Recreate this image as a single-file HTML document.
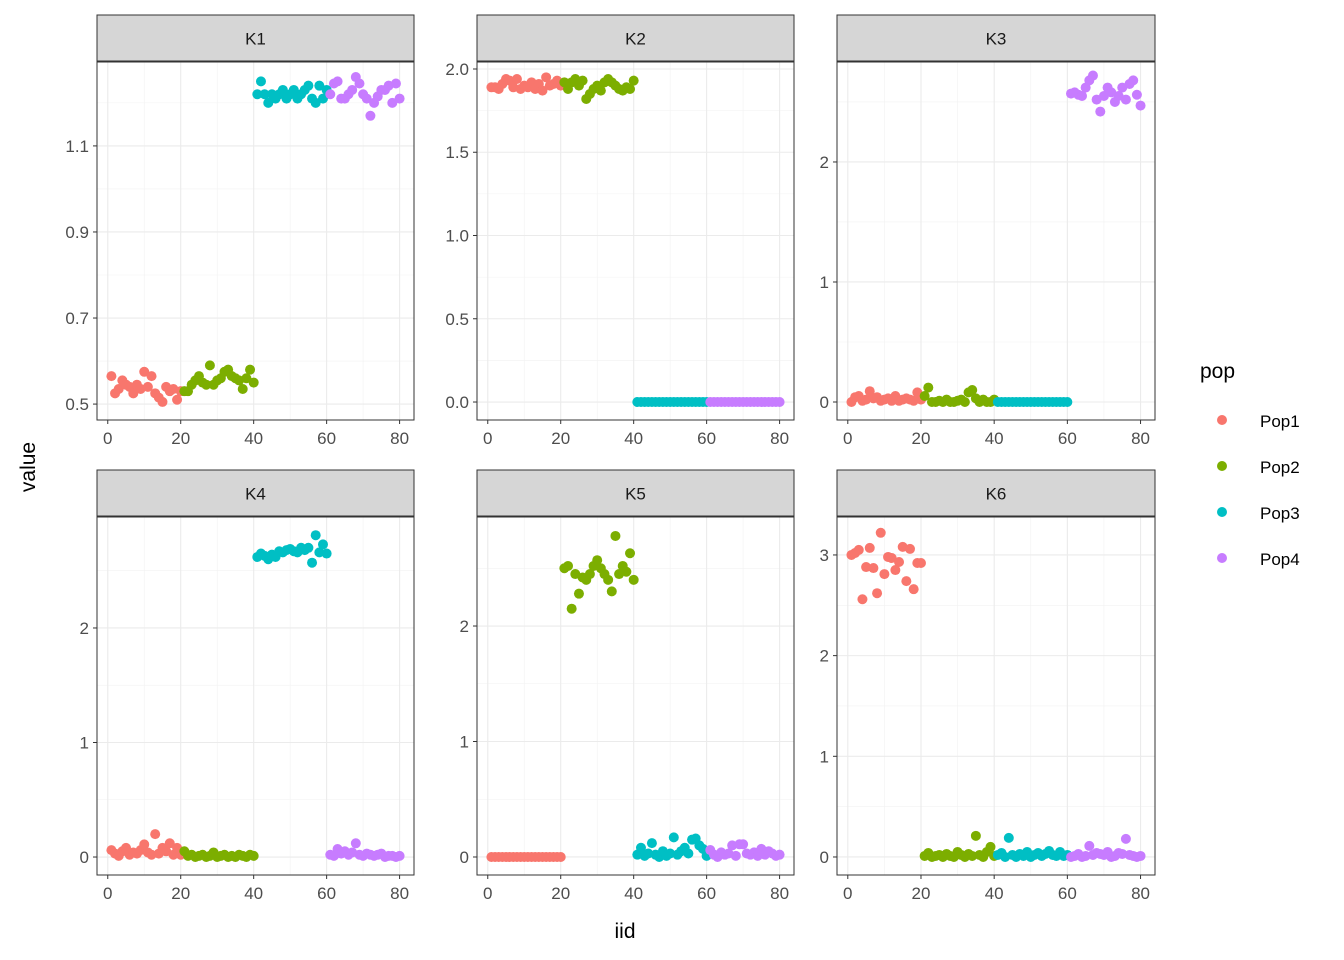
<!DOCTYPE html>
<html><head><meta charset="utf-8"><style>
body{margin:0;background:#fff;}
svg{display:block;font-family:"Liberation Sans",Arial,sans-serif;}
</style></head><body>
<svg id="chart" width="1344" height="960" viewBox="0 0 1344 960"></svg>
<script>
const facetNames = ["K1","K2","K3","K4","K5","K6"];
const popNames = ["Pop1","Pop2","Pop3","Pop4"];
const popColors = ["#F8766D","#7CAE00","#00BFC4","#C77CFF"];
const z20 = new Array(20).fill(0);
const k1 = [
 [0.565,0.525,0.535,0.555,0.545,0.54,0.525,0.545,0.535,0.575,0.54,0.565,0.525,0.515,0.505,0.54,0.53,0.535,0.51,0.53],
 [0.53,0.53,0.545,0.555,0.565,0.55,0.545,0.59,0.545,0.555,0.56,0.575,0.58,0.565,0.56,0.555,0.535,0.56,0.58,0.55],
 [1.22,1.25,1.22,1.20,1.22,1.21,1.22,1.23,1.21,1.22,1.23,1.21,1.22,1.23,1.24,1.21,1.20,1.24,1.21,1.23],
 [1.22,1.245,1.25,1.21,1.21,1.22,1.23,1.26,1.245,1.22,1.21,1.17,1.20,1.215,1.23,1.23,1.24,1.20,1.245,1.21]];
const k2 = [
 [1.89,1.89,1.88,1.91,1.94,1.93,1.89,1.94,1.88,1.90,1.89,1.92,1.88,1.91,1.87,1.95,1.90,1.91,1.93,1.90],
 [1.92,1.88,1.92,1.94,1.90,1.93,1.82,1.85,1.88,1.90,1.87,1.92,1.94,1.92,1.90,1.88,1.87,1.89,1.88,1.93],
 z20, z20];
const k3 = [
 [0,0.04,0.05,0.01,0.02,0.09,0.03,0.04,0.01,0.02,0.03,0.01,0.05,0.01,0.02,0.03,0.02,0.01,0.08,0.02],
 [0.05,0.12,0,0,0.01,0,0.02,0,0,0.01,0.02,0,0.08,0.10,0.03,0,0.02,0,0,0.02],
 z20,
 [2.57,2.58,2.56,2.55,2.62,2.68,2.72,2.52,2.42,2.55,2.62,2.58,2.5,2.55,2.62,2.52,2.65,2.68,2.56,2.47]];
const k4 = [
 [0.06,0.03,0.01,0.05,0.08,0.02,0.04,0.03,0.06,0.11,0.04,0.02,0.2,0.03,0.08,0.05,0.12,0.02,0.08,0.02],
 [0.05,0.01,0.02,0,0.01,0.02,0,0.01,0.04,0,0.01,0.02,0,0.01,0,0.02,0.01,0,0.02,0.01],
 [2.62,2.65,2.63,2.6,2.64,2.62,2.67,2.66,2.68,2.69,2.67,2.66,2.70,2.68,2.7,2.57,2.81,2.66,2.73,2.65],
 [0.02,0.01,0.07,0.03,0.05,0.02,0.04,0.12,0.02,0.01,0.03,0.02,0.01,0.02,0.03,0,0.01,0.01,0,0.01]];
const k5 = [
 z20,
 [2.5,2.52,2.15,2.45,2.28,2.42,2.4,2.45,2.52,2.57,2.5,2.45,2.4,2.3,2.78,2.45,2.52,2.47,2.63,2.4],
 [0.02,0.08,0.01,0.03,0.12,0.02,0,0.05,0.01,0.03,0.17,0.02,0.05,0.08,0.03,0.15,0.16,0.1,0.07,0.01],
 [0.06,0.02,0,0.04,0.02,0.03,0.1,0.01,0.11,0.11,0.03,0.02,0.04,0.01,0.07,0.02,0.05,0.03,0.01,0.02]];
const k6 = [
 [3.0,3.02,3.05,2.56,2.88,3.07,2.87,2.62,3.22,2.81,2.98,2.97,2.85,2.93,3.08,2.74,3.06,2.66,2.92,2.92],
 [0.01,0.04,0,0.01,0.02,0,0.03,0.01,0,0.05,0.02,0,0.03,0.01,0.21,0.02,0,0.05,0.1,0.01],
 [0.02,0.04,0,0.19,0.02,0,0.03,0.01,0.05,0,0.02,0.04,0.01,0.03,0.06,0.02,0.01,0.05,0.01,0.02],
 [0,0.01,0.03,0,0.01,0.11,0.02,0.04,0.03,0.02,0.05,0,0.01,0.04,0.03,0.18,0.02,0.01,0,0.01]];
const facetData = [k1,k2,k3,k4,k5,k6];
const xTicks = [0,20,40,60,80];
const yTicks = [[0.5,0.7,0.9,1.1],[0,0.5,1.0,1.5,2.0],[0,1,2],[0,1,2],[0,1,2],[0,1,2,3]];
const yTickLabels = [["0.5","0.7","0.9","1.1"],["0.0","0.5","1.0","1.5","2.0"],["0","1","2"],["0","1","2"],["0","1","2"],["0","1","2","3"]];

const svg = document.getElementById('chart');
const NS = 'http://www.w3.org/2000/svg';
function mk(tag, attrs, parent, text){
  const e = document.createElementNS(NS, tag);
  for (const k in attrs) e.setAttribute(k, attrs[k]);
  if (text !== undefined) e.textContent = text;
  (parent||svg).appendChild(e);
  return e;
}
const cols = [[97,414],[477,794],[837,1155]];
const rows = [[62,420,15],[517,875,470]];
const yDomains = [[0.463,1.295],[-0.108,2.042],[-0.15,2.833],[-0.157,2.969],[-0.156,2.944],[-0.179,3.377]];
const xDom = [-2.95,83.95];

facetNames.forEach((name, f) => {
  const [x0,x1] = cols[f%3];
  const [y0,y1,sy] = rows[Math.floor(f/3)];
  const [d0,d1] = yDomains[f];
  const xs = v => x0 + (v - xDom[0])/(xDom[1]-xDom[0])*(x1-x0);
  const ys = v => y1 - (v - d0)/(d1-d0)*(y1-y0);
  const g = mk('g', {});
  
  
  const strip = mk('rect', {x:x0, y:sy, width:x1-x0, height:y0-sy-1, fill:'#D6D6D6', stroke:'#333', 'stroke-width':1}, g);
  
  
  const st = mk('text', {x:(x0+x1)/2, y:(sy+y0)/2+6, 'text-anchor':'middle', 'font-size':17, fill:'#1A1A1A'}, g, name);
  
  
  [10,30,50,70].forEach(v => mk('line', {x1:xs(v), x2:xs(v), y1:y0, y2:y1, stroke:'#F2F2F2', 'stroke-width':0.6}, g));
  const yt = yTicks[f];
  const step = yt[1]-yt[0];
  for (let v = yt[0]-step/2; v <= d1; v += step) if (v >= d0) mk('line', {x1:x0, x2:x1, y1:ys(v), y2:ys(v), stroke:'#F2F2F2', 'stroke-width':0.6}, g);
  xTicks.forEach(v => mk('line', {x1:xs(v), x2:xs(v), y1:y0, y2:y1, stroke:'#EBEBEB', 'stroke-width':1.1}, g));
  yt.forEach(v => mk('line', {x1:x0, x2:x1, y1:ys(v), y2:ys(v), stroke:'#EBEBEB', 'stroke-width':1.1}, g));
  facetData[f].forEach((vals, p) => {
    vals.forEach((v, i) => {
      const c = mk('circle', {cx:xs(p*20+i+1), cy:ys(v), r:5, fill:popColors[p]}, g);
      
      
    });
  });
  mk('rect', {x:x0, y:y0, width:x1-x0, height:y1-y0, fill:'none', stroke:'#333', 'stroke-width':1}, g);
  xTicks.forEach(v => {
    mk('line', {x1:xs(v), x2:xs(v), y1:y1, y2:y1+4, stroke:'#333'}, g);
    const t = mk('text', {x:xs(v), y:y1+24, 'text-anchor':'middle', 'font-size':17, fill:'#4D4D4D'}, g, String(v));
    
    
  });
  yt.forEach((v, k) => {
    mk('line', {x1:x0-4, x2:x0, y1:ys(v), y2:ys(v), stroke:'#333'}, g);
    const t = mk('text', {x:x0-8, y:ys(v)+6, 'text-anchor':'end', 'font-size':17, fill:'#4D4D4D'}, g, yTickLabels[f][k]);
    
    
  });
});
const yt = mk('text', {x:0, y:0, transform:'translate(35,467) rotate(-90)', 'text-anchor':'middle', 'font-size':21, fill:'#000'}, svg, 'value');


const xt = mk('text', {x:625, y:938, 'text-anchor':'middle', 'font-size':21, fill:'#000'}, svg, 'iid');


const lg = mk('g', {});


const lt = mk('text', {x:1200, y:378, 'font-size':21, fill:'#000'}, lg, 'pop');


popNames.forEach((n, p) => {
  const y = 420 + p*46;
  const c = mk('circle', {cx:1222, cy:y, r:5, fill:popColors[p]}, lg);
  
  
  const t = mk('text', {x:1260, y:y+7, 'font-size':17, fill:'#000'}, lg, n);
  
  
});
</script>
</body></html>
